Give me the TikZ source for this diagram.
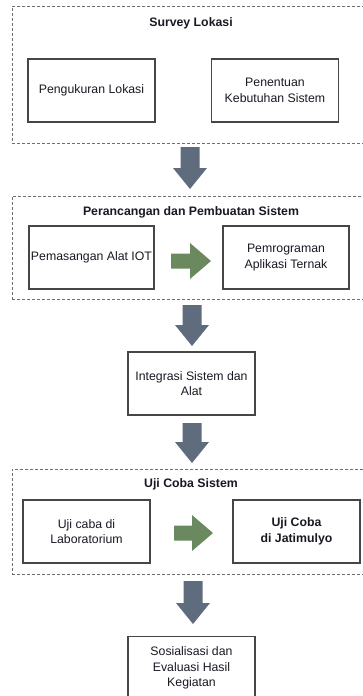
\documentclass[tikz,border=0pt]{standalone}
\usepackage{fontspec}
\setmainfont{Liberation Sans}
\definecolor{grpgray}{RGB}{110,110,110}
\definecolor{boxgray}{RGB}{70,70,70}
\definecolor{arrgray}{RGB}{95,108,125}
\definecolor{arrgreen}{RGB}{106,137,94}
\definecolor{txt}{RGB}{25,25,35}
\newcommand{\dgfont}{\fontsize{12.3}{15.5}\selectfont}
\newcommand{\DownBlk}[3]{% x, ytop, ytip
  \fill[arrgray] (#1-9.5,#2) -- (#1+9.5,#2) -- (#1+9.5,#3-21) -- (#1+17,#3-21)
    -- (#1,#3) -- (#1-17,#3-21) -- (#1-9.5,#3-21) -- cycle;}
\newcommand{\RightBlk}[3]{% xstart, xtip, y
  \fill[arrgreen] (#1,#3-7.5) -- (#2-21,#3-7.5) -- (#2-21,#3-18) -- (#2,#3)
    -- (#2-21,#3+18) -- (#2-21,#3+7.5) -- (#1,#3+7.5) -- cycle;}
\begin{document}
\begin{tikzpicture}[x=1pt,y=-1pt,
  grp/.style={draw=grpgray, dash pattern=on 3pt off 2pt, line width=0.8pt,
    rectangle, anchor=north west, inner sep=0pt, minimum width=358pt},
  box/.style={draw=boxgray, line width=1.3pt, fill=white, rectangle,
    minimum width=127pt, minimum height=63pt, align=center, inner sep=0pt,
    text=txt, font=\dgfont},
  ttl/.style={font=\dgfont\bfseries, text=txt, inner sep=0pt}]
\useasboundingbox (0,0) rectangle (362,696);
\fill[white] (0,0) rectangle (362,696);

% group 1
\node[grp, minimum height=137pt] (g1) at (12,6) {};
\node[ttl] (t1) at (191,23) {Survey Lokasi};
\node[box] (b1) at (91.5,90.5) {Pengukuran Lokasi};
\node[box] (b2) at (275,90.5) {Penentuan\\Kebutuhan Sistem};

\DownBlk{190}{147}{189}

% group 2
\node[grp, minimum height=103pt] (g2) at (12,196) {};
\node[ttl] (t2) at (191,212) {Perancangan dan Pembuatan Sistem};
\node[box, minimum width=125pt] (b3) at (91.5,257.5) {Pemasangan Alat IOT};
\node[box, minimum width=126pt] (b4) at (286,257.5) {Pemrograman\\Aplikasi Ternak};
\RightBlk{171}{211}{261}

\DownBlk{192}{305}{346}

\node[box] (b5) at (191.5,383.5) {Integrasi Sistem dan\\Alat};

\DownBlk{192}{423}{463}

% group 3
\node[grp, minimum height=105pt] (g3) at (12,469) {};
\node[ttl] (t3) at (191,484) {Uji Coba Sistem};
\node[box] (b6) at (86.5,531.5) {Uji caba di\\Laboratorium};
\node[box, font=\dgfont\bfseries] (b7) at (296.5,531.5) {Uji Coba\\di Jatimulyo};
\RightBlk{174}{213}{533}

\DownBlk{193}{581}{624}

\node[box] (b8) at (191.5,668) {Sosialisasi dan\\Evaluasi Hasil\\Kegiatan};
\end{tikzpicture}
\end{document}
